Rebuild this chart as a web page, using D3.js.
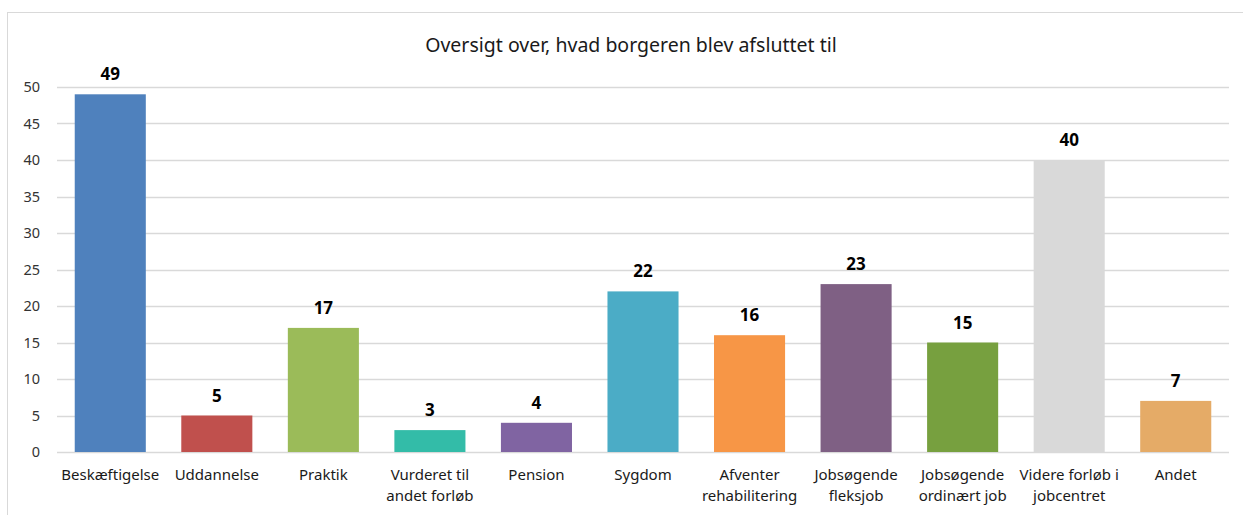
<!DOCTYPE html>
<html>
<head>
<meta charset="utf-8">
<script src="https://cdn.jsdelivr.net/npm/d3@7"></script>
<style>
  body { margin: 0; background: #fff; }
  svg { display: block; font-family: "Noto Sans", "Open Sans", sans-serif; }
</style>
</head>
<body>
<div id="chart"></div>
<script>
// Data
const categories = [
  "Beskæftigelse", "Uddannelse", "Praktik", "Vurderet til|andet forløb", "Pension",
  "Sygdom", "Afventer|rehabilitering", "Jobsøgende|fleksjob", "Jobsøgende|ordinært job",
  "Videre forløb i|jobcentret", "Andet"
];
const values = [49, 5, 17, 3, 4, 22, 16, 23, 15, 40, 7];
const barColors = [
  "#4f81bd", "#c0504d", "#9bbb59", "#33bca8", "#8064a2",
  "#4bacc6", "#f79646", "#7f6084", "#77a03f", "#d9d9d9", "#e5ab67"
];
const yTicks = [0, 5, 10, 15, 20, 25, 30, 35, 40, 45, 50];
const title = "Oversigt over, hvad borgeren blev afsluttet til";

const width = 1243;
const height = 515;
const margin = { top: 87, right: 14, bottom: 63, left: 57 };

const svg = d3.select("#chart")
  .append("svg")
  .attr("width", width)
  .attr("height", height);

// outer frame
svg.append("rect")
  .attr("x", 7.5)
  .attr("y", 12.5)
  .attr("width", 1260)
  .attr("height", 540)
  .attr("fill", "none")
  .attr("stroke", "#d9d9d9");

const x = d3.scaleBand()
  .domain(categories)
  .range([margin.left, width - margin.right])
  .paddingInner(0.333)
  .paddingOuter(0.1665);

const y = d3.scaleLinear()
  .domain([0, 50])
  .range([height - margin.bottom, margin.top]);

// gridlines
svg.append("g")
  .selectAll("line")
  .data(yTicks)
  .join("line")
  .attr("x1", margin.left)
  .attr("x2", width - margin.right)
  .attr("y1", d => Math.round(y(d)) + 0.5)
  .attr("y2", d => Math.round(y(d)) + 0.5)
  .attr("stroke", "#d9d9d9")
  .attr("stroke-width", 1.3);

// y axis labels
const yAxis = d3.axisLeft(y).tickValues(yTicks).tickSize(0).tickPadding(0);
svg.append("g")
  .attr("transform", `translate(${margin.left - 17},0)`)
  .call(yAxis)
  .call(g => g.select(".domain").remove())
  .selectAll("text")
  .attr("font-size", 14.5)
  .attr("font-family", "Noto Sans, sans-serif")
  .attr("fill", "#333");

// bars
svg.append("g")
  .selectAll("rect")
  .data(values)
  .join("rect")
  .attr("x", (d, i) => x(categories[i]))
  .attr("y", d => y(d))
  .attr("width", x.bandwidth())
  .attr("height", d => y(0) - y(d))
  .attr("fill", (d, i) => barColors[i]);

// value labels
svg.append("g")
  .selectAll("text")
  .data(values)
  .join("text")
  .attr("x", (d, i) => x(categories[i]) + x.bandwidth() / 2)
  .attr("y", d => y(d) - 14)
  .attr("text-anchor", "middle")
  .attr("font-size", 17)
  .attr("font-weight", "bold")
  .attr("fill", "#000")
  .text(d => d);

// category labels
const xAxis = d3.axisBottom(x).tickSize(0).tickFormat("");
svg.append("g")
  .attr("transform", `translate(0,${height - margin.bottom})`)
  .call(xAxis)
  .call(g => g.select(".domain").remove());

const catLabels = svg.append("g")
  .selectAll("text")
  .data(categories)
  .join("text")
  .attr("x", d => x(d) + x.bandwidth() / 2)
  .attr("y", 480)
  .attr("text-anchor", "middle")
  .attr("font-size", 15)
  .attr("fill", "#1a1a1a");

catLabels.each(function (d) {
  const lines = d.split("|");
  const t = d3.select(this);
  lines.forEach((ln, i) => {
    t.append("tspan")
      .attr("x", t.attr("x"))
      .attr("dy", i === 0 ? 0 : 21)
      .text(ln);
  });
});

// title
svg.append("text")
  .attr("x", 631)
  .attr("y", 52)
  .attr("text-anchor", "middle")
  .attr("font-size", 19.5)
  .attr("fill", "#1a1a1a")
  .text(title);
</script>
</body>
</html>
